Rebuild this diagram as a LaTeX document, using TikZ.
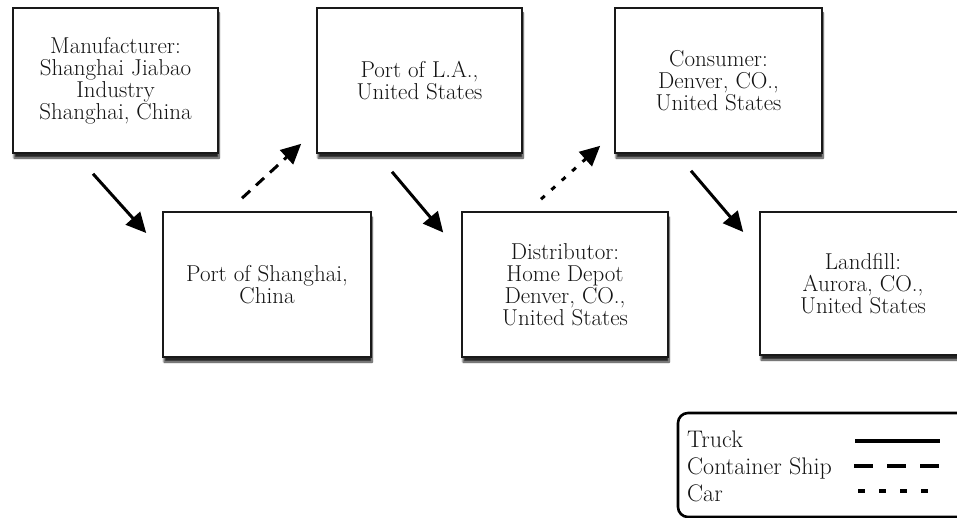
\documentclass[tikz,border=0pt]{standalone}
\usetikzlibrary{arrows.meta,shadows.blur}

\begin{document}
\begin{tikzpicture}[x=1pt, y=-1pt,
		place/.style={rectangle, draw=black!90, line width=1.6pt, fill=white,
			minimum width=205pt, minimum height=145pt, inner sep=0pt,
			align=center, text=black!92, font=\fontsize{23}{22}\selectfont,
			blur shadow={shadow xshift=1pt, shadow yshift=-5pt,
				shadow blur steps=8, shadow opacity=85}},
		key/.style={anchor=base west, inner sep=0pt, text=black!92,
			font=\fontsize{24}{22}\selectfont},
		truck/.style={line width=3pt, -{Triangle[length=20pt,width=19pt]}},
		ship/.style={truck, dash pattern=on 11pt off 8pt},
		car/.style={truck, dash pattern=on 5pt off 9pt}]
			\useasboundingbox (0,0) rectangle (957,518);

			% the chain of places
			\node[place] (mfr) at (115.5,80.5)
				{Manufacturer:\\ Shanghai Jiabao\\ Industry\\ Shanghai, China};
			\node[place] (la) at (419.5,80.5) {Port of L.A.,\\ United States};
			\node[place, minimum width=207pt] (con) at (718.5,80.5)
				{Consumer:\\ Denver, CO.,\\ United States};
			\node[place, minimum width=208pt] (psh) at (267,284.5)
				{Port of Shanghai,\\ China};
			\node[place, minimum width=206pt] (dist) at (565,284.5)
				{Distributor:\\ Home Depot\\ Denver, CO.,\\ United States};
			\node[place, minimum width=206pt, minimum height=143pt] (land) at (863,283.5)
				{Landfill:\\ Aurora, CO.,\\ United States};

			% transport legs
			\draw[truck] ([shift={(-22.5,20)}]mfr.south) -- ([shift={(-16,-51.5)}]psh.west);
			\draw[ship] ([shift={(-25,-13)}]psh.north) -- ([shift={(-15,-10)}]la.south west);
			\draw[truck] ([shift={(-27.5,18)}]la.south) -- ([shift={(-18,-52)}]dist.west);
			\draw[car] ([shift={(-24,-12)}]dist.north) -- ([shift={(-14,-8)}]con.south west);
			\draw[truck] ([shift={(-27.5,17)}]con.south) -- ([shift={(-16,-51.5)}]land.west);

			% legend
			\draw[line width=2.6pt, rounded corners=10pt] (678,413) rectangle (990,517);
			\node[key] (kt) at (687,447) {Truck};
			\node[key] (ks) at (687,474) {Container Ship};
			\node[key] (kc) at (687,501) {Car};
			\draw[line width=4pt] (855,441) -- (940,441);
			\draw[line width=4pt, dash pattern=on 19pt off 14pt] (854,466) -- (940,466);
			\draw[line width=4pt, dash pattern=on 7pt off 14pt] (858,491) -- (931,491);
		\end{tikzpicture}
\end{document}
